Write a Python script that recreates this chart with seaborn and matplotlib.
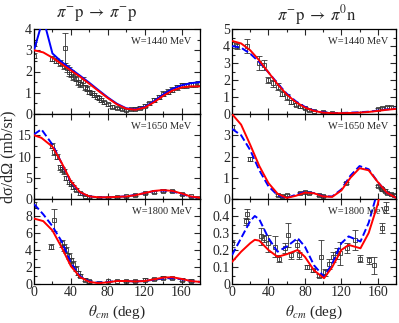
import matplotlib
matplotlib.use("Agg")
import matplotlib.pyplot as plt
import seaborn as sns
from matplotlib.ticker import MultipleLocator

# angles (deg) for model curves
theta = [0, 10, 20, 30, 40, 50, 60, 70, 80, 90, 100, 110, 120, 130, 140, 150, 160, 170, 180]

# pi- p -> pi- p, W=1440
el1440_red = [3.0, 2.9, 2.65, 2.35, 2.05, 1.75, 1.42, 1.08, 0.75, 0.45, 0.25, 0.2, 0.3, 0.55, 0.85, 1.1, 1.25, 1.3, 1.3]
el1440_blue = [3.0, 4.5, 2.85, 2.45, 2.12, 1.8, 1.47, 1.12, 0.78, 0.48, 0.27, 0.22, 0.33, 0.6, 0.92, 1.18, 1.35, 1.45, 1.5]
el1440_x = [0, 0, 20, 24, 28, 34, 33, 36, 38, 40, 42, 45, 48, 50, 53, 55, 58, 60, 63, 65, 68, 70, 73, 76, 80, 85,
            90, 95, 100, 105, 110, 115, 120, 125, 130, 135, 140, 145, 150, 155, 160, 165, 170, 175, 178]
el1440_y = [3.3, 2.75, 2.6, 2.5, 2.4, 3.1, 2.25, 2.15, 2.0, 1.9, 1.75, 1.65, 1.5, 1.4, 1.55, 1.25, 1.2, 1.05, 1.0,
            0.9, 0.8, 0.75, 0.65, 0.55, 0.45, 0.35, 0.28, 0.22, 0.2, 0.22, 0.25, 0.3, 0.4, 0.5, 0.65, 0.8, 0.95,
            1.05, 1.15, 1.25, 1.35, 1.35, 1.4, 1.4, 1.45]
el1440_err = [0.1, 0.1, 0.12, 0.12, 0.15, 0.7, 0.15, 0.15, 0.2, 0.15, 0.15, 0.12, 0.12, 0.12, 0.2, 0.1, 0.1, 0.1,
              0.1, 0.1, 0.1, 0.1, 0.08, 0.08, 0.08, 0.06, 0.06, 0.05, 0.05, 0.05, 0.06, 0.06, 0.08, 0.08, 0.1,
              0.1, 0.12, 0.12, 0.12, 0.12, 0.12, 0.12, 0.12, 0.12, 0.12]

# pi- p -> pi- p, W=1650
el1650_theta = [0, 8, 20, 30, 40, 50, 60, 70, 80, 90, 100, 110, 120, 130, 140, 150, 160, 170, 180]
el1650_red = [15.0, 14.4, 12.3, 8.5, 4.2, 1.6, 0.6, 0.4, 0.4, 0.5, 0.6, 0.9, 1.4, 1.9, 2.1, 1.9, 1.3, 0.6, 0.3]
el1650_blue = [15.2, 16.4, 12.8, 8.4, 4.0, 1.5, 0.6, 0.4, 0.4, 0.5, 0.65, 0.95, 1.4, 1.85, 2.0, 1.8, 1.2, 0.55, 0.25]
el1650_x = [20, 22, 25, 28, 30, 33, 35, 38, 40, 42, 45, 50, 55, 60, 70, 80, 90, 100, 110, 120, 130, 140, 150, 160, 170, 178]
el1650_y = [12.5, 11.0, 10.0, 7.5, 7.0, 6.5, 5.0, 4.0, 3.5, 2.8, 2.2, 1.3, 0.8, 0.5, 0.3, 0.3, 0.4, 0.6, 0.9,
            1.3, 1.7, 2.0, 1.8, 1.2, 0.6, 0.3]
el1650_err = [0.6, 0.6, 0.6, 0.6, 0.6, 0.5, 0.5, 0.5, 0.4, 0.4, 0.3, 0.3, 0.2, 0.2, 0.15, 0.15, 0.15, 0.15, 0.2,
              0.2, 0.25, 0.3, 0.25, 0.2, 0.15, 0.1]

# pi- p -> pi- p, W=1800
el1800_red = [7.7, 7.4, 6.3, 4.3, 2.1, 0.8, 0.25, 0.1, 0.2, 0.35, 0.35, 0.3, 0.35, 0.55, 0.75, 0.8, 0.6, 0.35, 0.25]
el1800_blue = [9.4, 8.2, 6.8, 5.0, 2.5, 0.9, 0.3, 0.15, 0.25, 0.35, 0.35, 0.3, 0.35, 0.5, 0.65, 0.7, 0.55, 0.35, 0.25]
el1800_x = [0, 18, 22, 30, 32, 35, 38, 40, 42, 45, 48, 50, 55, 60, 70, 80, 90, 100, 110, 120, 130, 140, 150, 160, 170]
el1800_y = [9.4, 4.4, 7.5, 4.8, 4.3, 4.0, 3.3, 2.8, 2.4, 1.8, 1.3, 1.0, 0.5, 0.3, 0.15, 0.3, 0.4, 0.35, 0.35,
            0.5, 0.6, 0.75, 0.7, 0.5, 0.4]
el1800_err = [0.3, 0.3, 1.3, 0.4, 0.4, 0.4, 0.4, 0.3, 0.3, 0.3, 0.25, 0.2, 0.2, 0.15, 0.1, 0.1, 0.1, 0.1, 0.1,
              0.15, 0.15, 0.15, 0.15, 0.15, 0.15]

# pi- p -> pi0 n, W=1440
cx1440_red = [4.3, 4.15, 3.75, 3.15, 2.45, 1.75, 1.15, 0.7, 0.38, 0.18, 0.08, 0.05, 0.05, 0.06, 0.08, 0.12, 0.18, 0.25, 0.3]
cx1440_blue = [4.0, 3.9, 3.55, 3.05, 2.45, 1.8, 1.2, 0.75, 0.42, 0.2, 0.1, 0.06, 0.06, 0.08, 0.1, 0.14, 0.2, 0.27, 0.32]
cx1440_x = [0, 5, 17, 30, 35, 40, 45, 50, 55, 60, 65, 70, 75, 80, 85, 90, 100, 110, 160, 165, 170, 175]
cx1440_y = [4.1, 4.0, 4.0, 3.0, 2.9, 2.0, 1.8, 1.6, 1.2, 1.0, 0.7, 0.55, 0.45, 0.35, 0.25, 0.2, 0.1, 0.05,
            0.3, 0.35, 0.4, 0.4]
cx1440_err = [0.2, 0.2, 0.4, 0.4, 0.3, 0.2, 0.2, 0.2, 0.15, 0.15, 0.1, 0.1, 0.1, 0.08, 0.06, 0.05, 0.05, 0.05,
              0.08, 0.08, 0.08, 0.08]

# pi- p -> pi0 n, W=1650
cx1650_red = [4.0, 3.5, 2.55, 1.55, 0.75, 0.25, 0.05, 0.15, 0.3, 0.27, 0.12, 0.1, 0.4, 1.0, 1.45, 1.35, 0.8, 0.3, 0.05]
cx1650_blue = [3.3, 3.0, 2.3, 1.35, 0.6, 0.18, 0.05, 0.2, 0.33, 0.28, 0.13, 0.12, 0.45, 1.1, 1.55, 1.4, 0.8, 0.3, 0.05]
cx1650_x = [0, 20, 50, 55, 60, 75, 80, 85, 95, 100, 125, 160, 163, 165, 168, 170, 175, 178]
cx1650_y = [3.4, 1.9, 0.2, 0.15, 0.2, 0.3, 0.33, 0.3, 0.2, 0.15, 0.75, 0.6, 0.5, 0.45, 0.4, 0.3, 0.25, 0.2]
cx1650_err = [0.1, 0.1, 0.05, 0.05, 0.05, 0.05, 0.05, 0.05, 0.05, 0.05, 0.05, 0.05, 0.05, 0.05, 0.05, 0.05, 0.05, 0.05]

# pi- p -> pi0 n, W=1800
cx1800_theta = [0, 10, 20, 25, 30, 40, 50, 60, 72, 80, 90, 101, 110, 120, 128, 141, 150, 160, 165]
cx1800_red = [0.13, 0.19, 0.24, 0.26, 0.255, 0.2, 0.16, 0.175, 0.2, 0.16, 0.08, 0.034, 0.1, 0.2, 0.23, 0.21, 0.3, 0.47, 0.6]
cx1800_blue = [0.17, 0.27, 0.37, 0.40, 0.38, 0.27, 0.19, 0.22, 0.27, 0.22, 0.11, 0.043, 0.12, 0.24, 0.28, 0.25, 0.36, 0.55, 0.7]
cx1800_x = [0, 15, 17, 32, 35, 39, 47, 52, 58, 61, 65, 71, 74, 82, 89, 95, 98, 102, 106, 111, 115, 119, 126,
            135, 141, 150, 156, 165, 169]
cx1800_y = [0.24, 0.37, 0.41, 0.28, 0.27, 0.24, 0.22, 0.15, 0.21, 0.29, 0.17, 0.23, 0.17, 0.10, 0.08, 0.05, 0.16,
            0.07, 0.12, 0.16, 0.18, 0.18, 0.21, 0.26, 0.15, 0.14, 0.11, 0.33, 0.45]
cx1800_err = [0.02, 0.02, 0.03, 0.05, 0.02, 0.05, 0.06, 0.02, 0.03, 0.07, 0.02, 0.03, 0.02, 0.01, 0.01, 0.01, 0.1,
              0.02, 0.03, 0.03, 0.03, 0.07, 0.03, 0.06, 0.02, 0.02, 0.05, 0.03, 0.03]

sns.set_style("ticks")
plt.rcParams['font.family'] = ['Liberation Serif', 'DejaVu Serif']
plt.rcParams['mathtext.fontset'] = 'stix'

fig = plt.figure(figsize=(3.99, 3.23), dpi=100)
W, H = 399.0, 323.0

def make_ax(x0, x1, y0, y1):
    return fig.add_axes([x0 / W, (H - y1) / H, (x1 - x0) / W, (y1 - y0) / H])

rows = [(29, 114), (114, 199), (199, 284)]
cols = [(34, 200), (232, 396)]

panels = [
    # col, row, theta, red, blue, blue style, data x, y, err, ymax, major, labels, W label
    (0, 0, theta, el1440_red, el1440_blue, '-', el1440_x, el1440_y, el1440_err, 4, 1, ['0', '1', '2', '3', '4'], 'W=1440 MeV'),
    (0, 1, el1650_theta, el1650_red, el1650_blue, '--', el1650_x, el1650_y, el1650_err, 20, 5, ['0', '5', '10', '15', ''], 'W=1650 MeV'),
    (0, 2, theta, el1800_red, el1800_blue, '--', el1800_x, el1800_y, el1800_err, 10, 2, ['0', '2', '4', '6', '8', ''], 'W=1800 MeV'),
    (1, 0, theta, cx1440_red, cx1440_blue, '--', cx1440_x, cx1440_y, cx1440_err, 5, 1, ['0', '1', '2', '3', '4', '5'], 'W=1440 MeV'),
    (1, 1, theta, cx1650_red, cx1650_blue, '--', cx1650_x, cx1650_y, cx1650_err, 4, 1, ['0', '1', '2', '3', ''], 'W=1650 MeV'),
    (1, 2, cx1800_theta, cx1800_red, cx1800_blue, '--', cx1800_x, cx1800_y, cx1800_err, 0.5, 0.1,
     ['0', '0.1', '0.2', '0.3', '0.4', ''], 'W=1800 MeV'),
]

for c, r, th, red, blue, bstyle, dx, dy, de, ymax, major, ylabels, wlab in panels:
    ax = make_ax(cols[c][0], cols[c][1], rows[r][0], rows[r][1])
    ax.errorbar(dx, dy, yerr=de, fmt='s', ms=2.5, mfc='none', mec='#333333', mew=0.6,
                ecolor='#333333', elinewidth=0.6, capsize=2, capthick=0.6, zorder=2)
    sns.lineplot(x=th, y=blue, ax=ax, color='#0000ff', lw=1.4, linestyle=bstyle, sort=False, estimator=None, zorder=3)
    sns.lineplot(x=th, y=red, ax=ax, color='#ff0000', lw=1.4, sort=False, estimator=None, zorder=4)
    ax.set_xlim(0, 180)
    ax.set_ylim(0, ymax)
    ax.xaxis.set_major_locator(MultipleLocator(40))
    ax.xaxis.set_minor_locator(MultipleLocator(20))
    yt = [i * major for i in range(len(ylabels))]
    ax.set_yticks(yt)
    ax.set_yticklabels(ylabels)
    ax.yaxis.set_minor_locator(MultipleLocator(major / 2))
    ax.tick_params(which='both', direction='in', top=True, right=True, labelsize=10, pad=1.5, width=0.8)
    ax.tick_params(which='major', length=4)
    ax.tick_params(which='minor', length=2)
    if r < 2:
        ax.set_xticklabels([])
    ax.set_xlabel('')
    ax.set_ylabel('')
    for s in ax.spines.values():
        s.set_linewidth(0.9)
        s.set_color('black')
    ax.text(0.95, 0.85, wlab, transform=ax.transAxes, ha='right', va='center', fontsize=7.5)
    if r == 2:
        ax.set_xlabel(r'$\theta_{cm}$ (deg)', fontsize=11, labelpad=3)

fig.text(97 / W, 1 - 15 / H, r'$\pi^{-}\mathrm{p}\;\rightarrow\;\pi^{-}\mathrm{p}$', ha='center', va='center', fontsize=12)
fig.text(317 / W, 1 - 15 / H, r'$\pi^{-}\mathrm{p}\;\rightarrow\;\pi^{0}\mathrm{n}$', ha='center', va='center', fontsize=12)
fig.text(8 / W, 1 - 157 / H, 'dσ/dΩ (mb/sr)', rotation=90, ha='center', va='center', fontsize=11.5)

fig.savefig('out.png', dpi=100)
